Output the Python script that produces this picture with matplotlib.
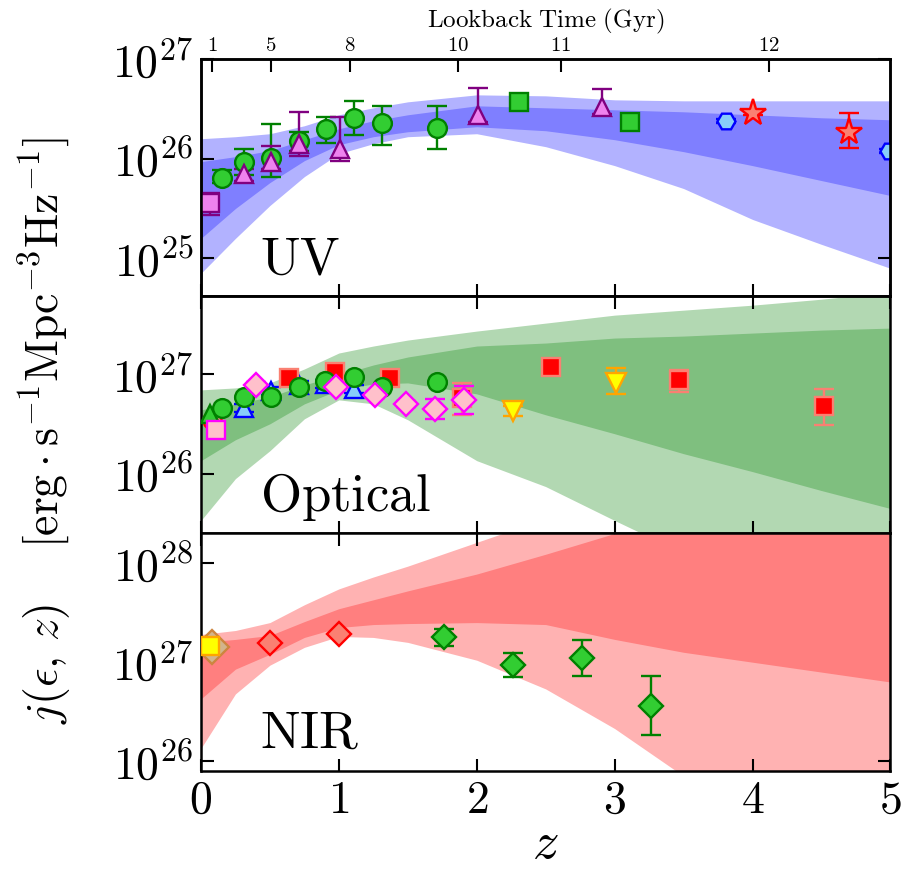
import numpy as np
import matplotlib
matplotlib.use("Agg")
import matplotlib.pyplot as plt
from matplotlib.ticker import NullLocator, LogLocator, FuncFormatter

plt.rcParams['mathtext.fontset'] = 'cm'
plt.rcParams['axes.unicode_minus'] = False

# ---- data (log10 of emissivity) ----
band_z = [0, 0.25, 0.5, 0.75, 1.0, 1.25, 1.5, 2.0, 2.5, 3.0, 3.5, 4.0, 4.5, 5.0]

uv_outer_hi = [26.20, 26.22, 26.25, 26.33, 26.44, 26.51, 26.57, 26.64, 26.63, 26.59, 26.58, 26.58, 26.58, 26.58]
uv_inner_hi = [25.97, 26.02, 26.08, 26.19, 26.30, 26.38, 26.44, 26.53, 26.51, 26.49, 26.47, 26.44, 26.41, 26.39]
uv_inner_lo = [25.20, 25.50, 25.76, 25.98, 26.14, 26.22, 26.27, 26.32, 26.28, 26.19, 26.07, 25.93, 25.78, 25.63]
uv_outer_lo = [24.85, 25.20, 25.53, 25.82, 26.05, 26.15, 26.22, 26.25, 26.12, 25.93, 25.70, 25.39, 25.14, 24.90]

opt_outer_hi = [26.84, 26.86, 26.91, 27.05, 27.21, 27.28, 27.34, 27.43, 27.51, 27.59, 27.64, 27.69, 27.75, 27.82]
opt_inner_hi = [26.64, 26.70, 26.77, 26.89, 26.99, 27.09, 27.17, 27.28, 27.31, 27.36, 27.38, 27.41, 27.44, 27.46]
opt_inner_lo = [26.13, 26.34, 26.50, 26.70, 26.84, 26.90, 26.91, 26.80, 26.59, 26.40, 26.20, 26.02, 25.83, 25.65]
opt_outer_lo = [25.53, 25.95, 26.23, 26.55, 26.74, 26.70, 26.54, 26.13, 25.87, 25.53, 25.20, 24.90, 24.60, 24.30]

nir_outer_hi = [27.28, 27.32, 27.40, 27.58, 27.74, 27.86, 27.97, 28.21, 28.45, 28.65, 28.85, 29.00, 29.10, 29.20]
nir_inner_hi = [27.20, 27.23, 27.27, 27.41, 27.54, 27.63, 27.72, 27.89, 28.09, 28.30, 28.50, 28.65, 28.80, 28.90]
nir_inner_lo = [26.63, 26.93, 27.08, 27.25, 27.35, 27.38, 27.39, 27.40, 27.38, 27.23, 27.10, 27.00, 26.90, 26.80]
nir_outer_lo = [26.13, 26.68, 26.97, 27.15, 27.26, 27.25, 27.20, 27.02, 26.73, 26.33, 25.85, 25.50, 25.20, 24.90]

# UV points
uv_sq_z, uv_sq_j, uv_sq_lo, uv_sq_hi = [0.065], [25.56], [25.43], [25.66]
uv_circ_z = [0.15, 0.31, 0.51, 0.71, 0.91, 1.11, 1.31, 1.71]
uv_circ_j = [25.81, 25.97, 26.01, 26.18, 26.30, 26.41, 26.36, 26.31]
uv_circ_lo = [25.76, 25.84, 25.82, 26.08, 26.16, 26.24, 26.14, 26.10]
uv_circ_hi = [25.89, 26.10, 26.35, 26.27, 26.42, 26.58, 26.53, 26.53]
uv_tri_z = [0.31, 0.51, 0.71, 1.01, 2.01, 2.91]
uv_tri_j = [25.85, 25.97, 26.15, 26.10, 26.44, 26.52]
uv_tri_lo = [25.78, 25.90, 26.03, 25.98, 26.37, 26.45]
uv_tri_hi = [25.90, 26.13, 26.47, 26.42, 26.71, 26.70]
uv_gsq_z, uv_gsq_j = [2.31, 3.11], [26.57, 26.37]
uv_hex_z, uv_hex_j = [3.81, 4.99], [26.38, 26.08]
uv_hex_lo, uv_hex_hi = [26.36, 26.06], [26.40, 26.10]
uv_star_z, uv_star_j = [4.00, 4.70], [26.46, 26.27]
uv_star_lo, uv_star_hi = [26.44, 26.11], [26.48, 26.46]

# Optical points
opt_gtri_z, opt_gtri_j = [0.065], [26.60]
opt_rcirc_z, opt_rcirc_j = [0.08], [26.54]
opt_psq_z, opt_psq_j = [0.11], [26.44]
opt_circ_z = [0.15, 0.31, 0.51, 0.71, 0.90, 1.11, 1.31, 1.71]
opt_circ_j = [26.66, 26.77, 26.77, 26.87, 26.93, 26.97, 26.87, 26.92]
opt_btri_z = [0.31, 0.51, 0.71, 0.90, 1.11]
opt_btri_j = [26.66, 26.83, 26.89, 26.90, 26.85]
opt_btri_lo = [26.62, 26.79, 26.85, 26.86, 26.81]
opt_btri_hi = [26.70, 26.87, 26.93, 26.94, 26.89]
opt_dia_z = [0.40, 0.98, 1.26, 1.49, 1.70, 1.91]
opt_dia_j = [26.89, 26.87, 26.79, 26.70, 26.65, 26.74]
opt_dia_lo = [26.86, 26.84, 26.76, 26.67, 26.55, 26.60]
opt_dia_hi = [26.92, 26.90, 26.82, 26.73, 26.75, 26.88]
opt_rsq_z = [0.64, 0.97, 1.37, 1.89, 2.54, 3.47, 4.52]
opt_rsq_j = [26.96, 27.02, 26.96, 26.76, 27.07, 26.94, 26.68]
opt_rsq_lo = [26.90, 26.97, 26.92, 26.59, 27.02, 26.82, 26.49]
opt_rsq_hi = [27.02, 27.07, 27.00, 26.91, 27.12, 27.04, 26.85]
opt_ytri_z = [2.26, 3.01]
opt_ytri_j = [26.63, 26.91]
opt_ytri_lo = [26.58, 26.80]
opt_ytri_hi = [26.68, 27.06]

# NIR points
nir_tan_z, nir_tan_j = [0.08], [27.15]
nir_ysq_z, nir_ysq_j = [0.065], [27.16]
nir_rdia_z, nir_rdia_j = [0.5, 1.0], [27.19, 27.28]
nir_gdia_z = [1.76, 2.26, 2.76, 3.26]
nir_gdia_j = [27.25, 26.97, 27.04, 26.56]
nir_gdia_lo = [27.16, 26.85, 26.86, 26.26]
nir_gdia_hi = [27.34, 27.09, 27.22, 26.86]

# lookback time axis
lookback_z = [0.082, 0.508, 1.08, 1.867, 2.61, 4.12]
lookback_lab = ['1', '5', '8', '10', '11', '12']


def bands(ax, ohi, ihi, ilo, olo, light, dark):
    p = lambda a: 10 ** np.array(a)
    ax.fill_between(band_z, p(olo), p(ohi), color=light, lw=0, zorder=1)
    ax.fill_between(band_z, p(ilo), p(ihi), color=dark, lw=0, zorder=2)


def pts(ax, z, j, marker, ms, fc, ec, lo=None, hi=None, ecol=None, z_ord=5):
    jj = 10 ** np.array(j)
    yerr = None
    if lo is not None:
        yerr = [jj - 10 ** np.array(lo), 10 ** np.array(hi) - jj]
    ax.errorbar(z, jj, yerr=yerr, fmt=marker, ms=ms, mfc=fc, mec=ec, mew=1.7,
                ecolor=ecol or ec, elinewidth=1.7, capsize=7, capthick=1.7,
                zorder=z_ord)


fig, (ax1, ax2, ax3) = plt.subplots(3, 1, figsize=(9.04, 8.71), dpi=100, sharex=True)
fig.subplots_adjust(left=0.2223, right=0.985, top=0.9323, bottom=0.1152, hspace=0)

# UV
bands(ax1, uv_outer_hi, uv_inner_hi, uv_inner_lo, uv_outer_lo, '#b2b2ff', '#7f7fff')
pts(ax1, uv_sq_z, uv_sq_j, 's', 13, 'violet', 'purple', uv_sq_lo, uv_sq_hi)
pts(ax1, uv_circ_z, uv_circ_j, 'o', 13.5, 'limegreen', 'green', uv_circ_lo, uv_circ_hi)
pts(ax1, uv_tri_z, uv_tri_j, '^', 13.5, 'violet', 'purple', uv_tri_lo, uv_tri_hi)
pts(ax1, uv_gsq_z, uv_gsq_j, 's', 13.5, 'limegreen', 'green')
pts(ax1, uv_hex_z, uv_hex_j, 'H', 13, 'lightskyblue', 'blue', uv_hex_lo, uv_hex_hi)
pts(ax1, uv_star_z, uv_star_j, '*', 20, 'salmon', 'red', uv_star_lo, uv_star_hi)

# Optical
bands(ax2, opt_outer_hi, opt_inner_hi, opt_inner_lo, opt_outer_lo, '#b2d8b2', '#7fbf7f')
pts(ax2, opt_rcirc_z, opt_rcirc_j, 'o', 13, 'salmon', 'red')
pts(ax2, opt_gtri_z, opt_gtri_j, '^', 13, 'limegreen', 'green')
pts(ax2, opt_psq_z, opt_psq_j, 's', 13, 'pink', 'magenta')
pts(ax2, opt_btri_z, opt_btri_j, '^', 13, 'lightskyblue', 'blue', opt_btri_lo, opt_btri_hi)
pts(ax2, opt_rsq_z, opt_rsq_j, 's', 13.5, 'red', 'salmon', opt_rsq_lo, opt_rsq_hi)
pts(ax2, opt_circ_z, opt_circ_j, 'o', 13.5, 'limegreen', 'green')
pts(ax2, opt_dia_z, opt_dia_j, 'D', 12.5, 'pink', 'magenta', opt_dia_lo, opt_dia_hi)
pts(ax2, opt_ytri_z, opt_ytri_j, 'v', 14, 'yellow', 'orange', opt_ytri_lo, opt_ytri_hi)

# NIR
bands(ax3, nir_outer_hi, nir_inner_hi, nir_inner_lo, nir_outer_lo, '#ffb2b2', '#ff7f7f')
pts(ax3, nir_tan_z, nir_tan_j, 'D', 17, 'tan', 'peru')
pts(ax3, nir_ysq_z, nir_ysq_j, 's', 13.5, 'yellow', 'orange')
pts(ax3, nir_rdia_z, nir_rdia_j, 'D', 12.5, 'salmon', 'red')
pts(ax3, nir_gdia_z, nir_gdia_j, 'D', 12.5, 'limegreen', 'green', nir_gdia_lo, nir_gdia_hi)

ax1.set_ylim(10 ** 24.62, 1e27)
ax2.set_ylim(10 ** 25.40, 10 ** 27.78)
ax3.set_ylim(10 ** 25.905, 10 ** 28.30)

logfmt = FuncFormatter(lambda v, _: r'$10^{%d}$' % int(round(np.log10(v))))
for ax, lab in zip((ax1, ax2, ax3), ('UV', 'Optical', 'NIR')):
    ax.set_yscale('log')
    ax.yaxis.set_major_locator(LogLocator(base=10, numticks=10))
    ax.yaxis.set_minor_locator(NullLocator())
    ax.yaxis.set_major_formatter(logfmt)
    ax.text(0.086, 0.095, r'$\mathrm{%s}$' % lab, transform=ax.transAxes,
            fontsize=38, ha='left', va='baseline', zorder=10)
    for s in ax.spines.values():
        s.set_linewidth(1.8)

ax3.set_xlim(0, 5)
ax3.set_xticks([0, 1, 2, 3, 4, 5])
ax3.xaxis.set_major_formatter(FuncFormatter(lambda v, _: r'$%d$' % int(round(v))))

top = ax1.twiny()
top.set_xlim(0, 5)
top.set_xticks(lookback_z)
top.set_xticklabels([r'$\mathrm{%s}$' % s for s in lookback_lab], fontsize=15)
top.tick_params(axis='x', direction='in', length=9, width=1.5, pad=3)
top.set_xlabel(r'$\mathrm{Lookback\ Time\ (Gyr)}$', fontsize=18, labelpad=5)
for s in top.spines.values():
    s.set_linewidth(1.8)

for ax in (ax1, ax2, ax3):
    ax.tick_params(axis='both', which='both', direction='in', length=9, width=1.5,
                   labelsize=33, right=True, top=(ax is not ax1), pad=5)
ax1.tick_params(axis='x', top=False, labeltop=False)

ax3.set_xlabel(r'$z$', fontsize=38, labelpad=-4)
fig.text(0.05, 0.505,
         r'$j(\epsilon,\,z)\quad\ [\mathrm{erg}\cdot\mathrm{s}^{-1}\mathrm{Mpc}^{-3}\mathrm{Hz}^{-1}]$',
         rotation=90, fontsize=33, ha='center', va='center')

fig.savefig('out.png', dpi=100)
